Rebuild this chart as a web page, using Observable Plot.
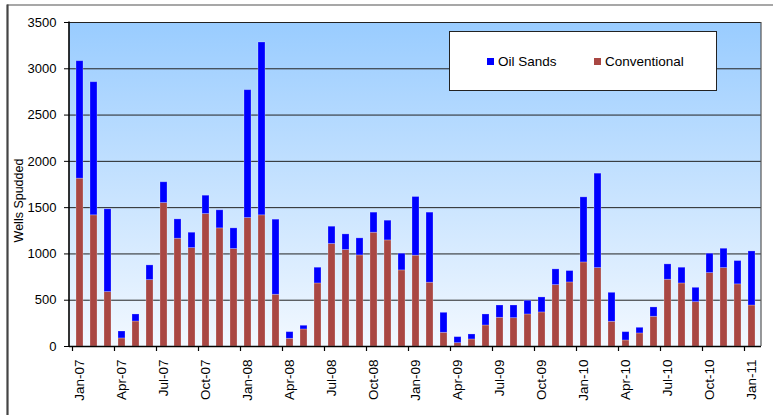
<!DOCTYPE html>
<html>
<head>
<meta charset="utf-8">
<script src="https://cdn.jsdelivr.net/npm/d3@7"></script>
<script src="https://cdn.jsdelivr.net/npm/@observablehq/plot@0.6"></script>
<style>
  body { margin: 0; background: #fff; }
  #wrap { position: relative; width: 773px; height: 415px; font-family: "Liberation Sans", Arial, sans-serif; }
  #legend { position: absolute; left: 449px; top: 31px; width: 266px; height: 58px; background: #fff; border: 1.5px solid #222; }
  .li { position: absolute; top: 21px; font-size: 13.5px; color: #000; white-space: nowrap; line-height: 18px; }
  .sw { display: inline-block; width: 7px; height: 7px; margin-right: 4px; vertical-align: 1px; }
</style>
</head>
<body>
<div id="wrap"></div>
<script>
const months = [
  "Jan-07","Feb-07","Mar-07","Apr-07","May-07","Jun-07","Jul-07","Aug-07","Sep-07","Oct-07","Nov-07","Dec-07",
  "Jan-08","Feb-08","Mar-08","Apr-08","May-08","Jun-08","Jul-08","Aug-08","Sep-08","Oct-08","Nov-08","Dec-08",
  "Jan-09","Feb-09","Mar-09","Apr-09","May-09","Jun-09","Jul-09","Aug-09","Sep-09","Oct-09","Nov-09","Dec-09",
  "Jan-10","Feb-10","Mar-10","Apr-10","May-10","Jun-10","Jul-10","Aug-10","Sep-10","Oct-10","Nov-10","Dec-10",
  "Jan-11"
];
const tickLabels = [
  "Jan-07","Apr-07","Jul-07","Oct-07","Jan-08","Apr-08","Jul-08","Oct-08",
  "Jan-09","Apr-09","Jul-09","Oct-09","Jan-10","Apr-10","Jul-10","Oct-10","Jan-11"
];
const conventional = [
  1813,1417,588,87,270,717,1550,1164,1063,1431,1276,1053,
  1388,1417,559,83,184,681,1107,1042,984,1229,1146,822,
  981,689,148,36,76,227,310,306,346,368,663,692,
  908,847,267,65,141,321,721,681,479,793,847,671,
  443
];
const oilSands = [
  1269,1438,894,75,76,159,224,209,166,198,195,223,
  1381,1867,811,72,40,170,187,169,184,217,213,180,
  634,757,216,65,54,119,133,137,148,162,170,123,
  703,1020,313,90,61,101,166,170,155,209,209,252,
  584
];
const yTicks = [0,500,1000,1500,2000,2500,3000,3500];
const seriesNames = ["Conventional","Oil Sands"];
const seriesColors = ["#A94743","#0000FF"];
const legendOrder = ["Oil Sands","Conventional"];

const rows = [];
months.forEach((m, i) => rows.push({month: m, series: "Conventional", value: conventional[i]}));
months.forEach((m, i) => rows.push({month: m, series: "Oil Sands", value: oilSands[i]}));

const W = 773, H = 415, mL = 69, mR = 12, mT = 22, mB = 69;

// background gradient (decoration)
function background(index, scales, values, dims) {
  const g = d3.create("svg:g");
  const grad = g.append("defs").append("linearGradient")
    .attr("id", "bg").attr("x1", 0).attr("y1", 0).attr("x2", 0).attr("y2", 1);
  grad.append("stop").attr("offset", "0%").attr("stop-color", "#99CCFF");
  grad.append("stop").attr("offset", "100%").attr("stop-color", "#F2F8FF");
  g.append("rect")
    .attr("x", dims.marginLeft).attr("y", dims.marginTop)
    .attr("width", dims.width - dims.marginLeft - dims.marginRight)
    .attr("height", dims.height - dims.marginTop - dims.marginBottom)
    .attr("fill", "url(#bg)");
  return g.node();
}
// x tick marks at the category boundary before each labelled month
function boundaryTicks(index, scales, values, dims) {
  const g = d3.create("svg:g").attr("stroke", "#000").attr("stroke-width", 1.2);
  const x = scales.scales.x;
  const stepPx = x.step;
  const bw = x.bandwidth;
  const y0 = dims.height - dims.marginBottom;
  tickLabels.forEach(l => {
    const bx = scales.x(l) - (stepPx - bw) / 2;
    g.append("line").attr("x1", bx).attr("x2", bx).attr("y1", y0).attr("y2", y0 + 5);
  });
  return g.node();
}
function borders(index, scales, values, dims) {
  const g = d3.create("svg:g");
  const x0 = dims.marginLeft, x1 = dims.width - dims.marginRight;
  const y0 = dims.marginTop, y1 = dims.height - dims.marginBottom;
  g.append("line").attr("x1", 7).attr("x2", dims.width).attr("y1", 5).attr("y2", 5)
    .attr("stroke", "#8a8a8a").attr("stroke-width", 1.5);
  g.append("line").attr("x1", 7.5).attr("x2", 7.5).attr("y1", 4.5).attr("y2", dims.height)
    .attr("stroke", "#444").attr("stroke-width", 2.2);
  g.append("line").attr("x1", x1).attr("x2", x1).attr("y1", y0).attr("y2", y1)
    .attr("stroke", "#555").attr("stroke-width", 1.2);
  g.append("line").attr("x1", x0).attr("x2", x0).attr("y1", y0 - 0.5).attr("y2", y1 + 0.5)
    .attr("stroke", "#000").attr("stroke-width", 1.6);
  return g.node();
}

const chart = Plot.plot({
  width: W, height: H,
  marginLeft: mL, marginRight: mR, marginTop: mT, marginBottom: mB,
  style: {fontFamily: "'Liberation Sans', Arial, sans-serif", fontSize: "13px", color: "#000", background: "transparent"},
  x: {type: "band", domain: months, paddingInner: 0.5, paddingOuter: 0.25, label: null},
  y: {domain: [0, 3500], label: null},
  color: {domain: seriesNames, range: seriesColors},
  marks: [
    background,
    Plot.gridY(yTicks, {stroke: "#222", strokeOpacity: 1, strokeWidth: 1}),
    Plot.barY(rows, {x: "month", y: "value", fill: "series", stroke: "#ffffff", strokeOpacity: 0.3, strokeWidth: 0.8}),
    Plot.ruleY([0], {stroke: "#000", strokeWidth: 1.6}),
    Plot.axisY(yTicks, {tickSize: 5, tickPadding: 8, fontSize: 13, label: null, tickFormat: d => String(d)}),
    boundaryTicks,
    Plot.axisX(tickLabels, {tickSize: 0, tickPadding: 13, tickRotate: -90, fontSize: 13.5, label: null}),
    Plot.text(["Wells Spudded"], {frameAnchor: "left", rotate: -90, dx: -51, dy: 16, fontSize: 12.5, textAnchor: "middle"}),
    borders
  ]
});

const wrap = document.getElementById("wrap");
wrap.appendChild(chart);

const legend = document.createElement("div");
legend.id = "legend";
const legendX = [37, 144];
legendOrder.forEach((name, i) => {
  const item = document.createElement("div");
  item.className = "li";
  item.style.left = legendX[i] + "px";
  const sw = document.createElement("span");
  sw.className = "sw";
  sw.style.background = seriesColors[seriesNames.indexOf(name)];
  item.appendChild(sw);
  item.appendChild(document.createTextNode(name));
  legend.appendChild(item);
});
wrap.appendChild(legend);
</script>
</body>
</html>
